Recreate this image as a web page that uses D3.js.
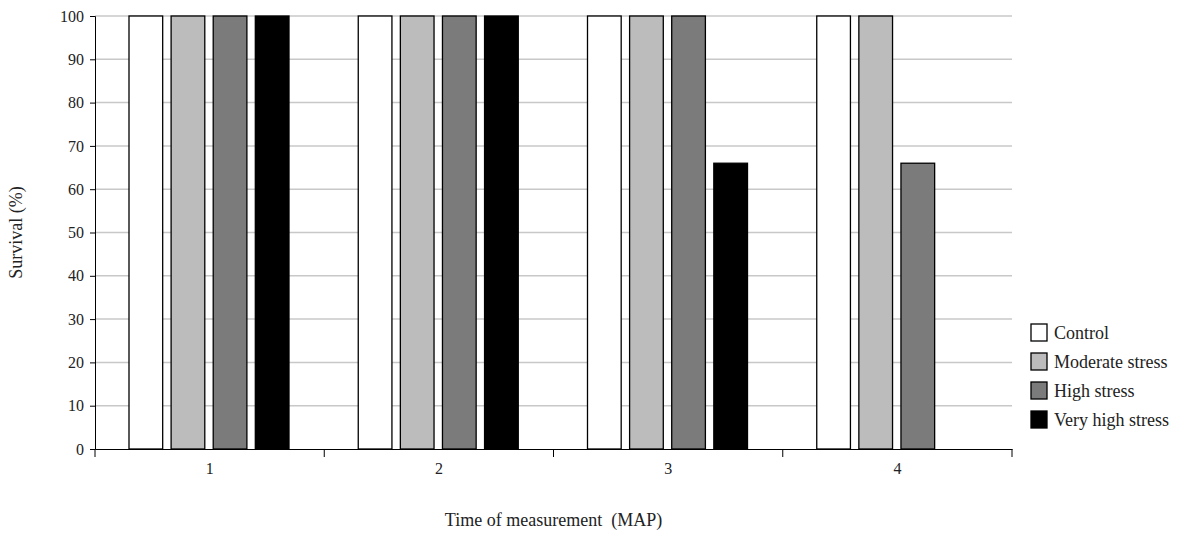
<!DOCTYPE html>
<html>
<head>
<meta charset="utf-8">
<script src="https://cdn.jsdelivr.net/npm/d3@7"></script>
<style>
body { margin: 0; background: #fff; }
text { font-family: "Liberation Serif", "Times New Roman", serif; fill: #222; }
</style>
</head>
<body>
<script>
var categories = ["1", "2", "3", "4"];
var seriesNames = ["Control", "Moderate stress", "High stress", "Very high stress"];
var colors = ["#ffffff", "#bcbcbc", "#7b7b7b", "#000000"];
var control = [100, 100, 100, 100];
var moderate = [100, 100, 100, 100];
var high = [100, 100, 100, 66];
var veryHigh = [100, 100, 66, 0];
var yTicks = [0, 10, 20, 30, 40, 50, 60, 70, 80, 90, 100];

(function () {
var series = [control, moderate, high, veryHigh];
var w = 1202, h = 535;
var pLeft = 95, pRight = 1012, pTop = 16, pBottom = 449;

var svg = d3.select("body").append("svg").attr("width", w).attr("height", h);

var xScale = d3.scaleBand().domain(categories).range([pLeft, pRight]);
var inner = d3.scaleBand().domain(d3.range(series.length))
    .range([34, 194]).paddingInner(0.2);
var yScale = d3.scaleLinear().domain([0, 100]).range([pBottom, pTop]);

// gridlines
svg.selectAll(".grid").data(yTicks.slice(1)).enter().append("line")
    .attr("x1", pLeft).attr("x2", pRight)
    .attr("y1", function (d) { return yScale(d); })
    .attr("y2", function (d) { return yScale(d); })
    .attr("stroke", "#c8c8c8").attr("stroke-width", 1.5);

// bars
categories.forEach(function (c, ci) {
    series.forEach(function (s, si) {
        if (s[ci] <= 0) return;
        svg.append("rect")
            .attr("x", xScale(c) + inner(si))
            .attr("y", yScale(s[ci]))
            .attr("width", inner.bandwidth())
            .attr("height", pBottom - yScale(s[ci]))
            .attr("fill", colors[si])
            .attr("stroke", "#000").attr("stroke-width", 1.3);
    });
});

// axes
var yAxis = d3.axisLeft(yScale).tickValues(yTicks).tickSize(5).tickPadding(6);
var gy = svg.append("g").attr("transform", "translate(" + pLeft + ",0)").call(yAxis);
gy.selectAll("text").style("font-size", "16px");

var xAxis = d3.axisBottom(xScale).tickSize(0).tickPadding(14);
var gx = svg.append("g").attr("transform", "translate(0," + pBottom + ")").call(xAxis);
gx.selectAll("text").style("font-size", "16px");
gx.selectAll(".sep").data(d3.range(categories.length + 1)).enter().append("line")
    .attr("x1", function (d) { return pLeft + d * xScale.step(); })
    .attr("x2", function (d) { return pLeft + d * xScale.step(); })
    .attr("y1", 0).attr("y2", 8).attr("stroke", "#000");
svg.selectAll(".domain").attr("stroke", "#000");

svg.append("text").attr("x", (pLeft + pRight) / 2).attr("y", 526)
    .attr("text-anchor", "middle").style("font-size", "18px")
    .attr("xml:space", "preserve")
    .text("Time of measurement  (MAP)");
svg.append("text").attr("transform", "translate(22," + ((pTop + pBottom) / 2) + ") rotate(-90)")
    .attr("text-anchor", "middle").style("font-size", "18px")
    .text("Survival (%)");

// legend
var lg = svg.append("g").attr("transform", "translate(1031,324)");
seriesNames.forEach(function (n, i) {
    lg.append("rect").attr("x", 0).attr("y", i * 29).attr("width", 16).attr("height", 17)
        .attr("fill", colors[i]).attr("stroke", "#000").attr("stroke-width", 1.3);
    lg.append("text").attr("x", 23).attr("y", i * 29 + 15).style("font-size", "18px").text(n);
});
})();
</script>
</body>
</html>
